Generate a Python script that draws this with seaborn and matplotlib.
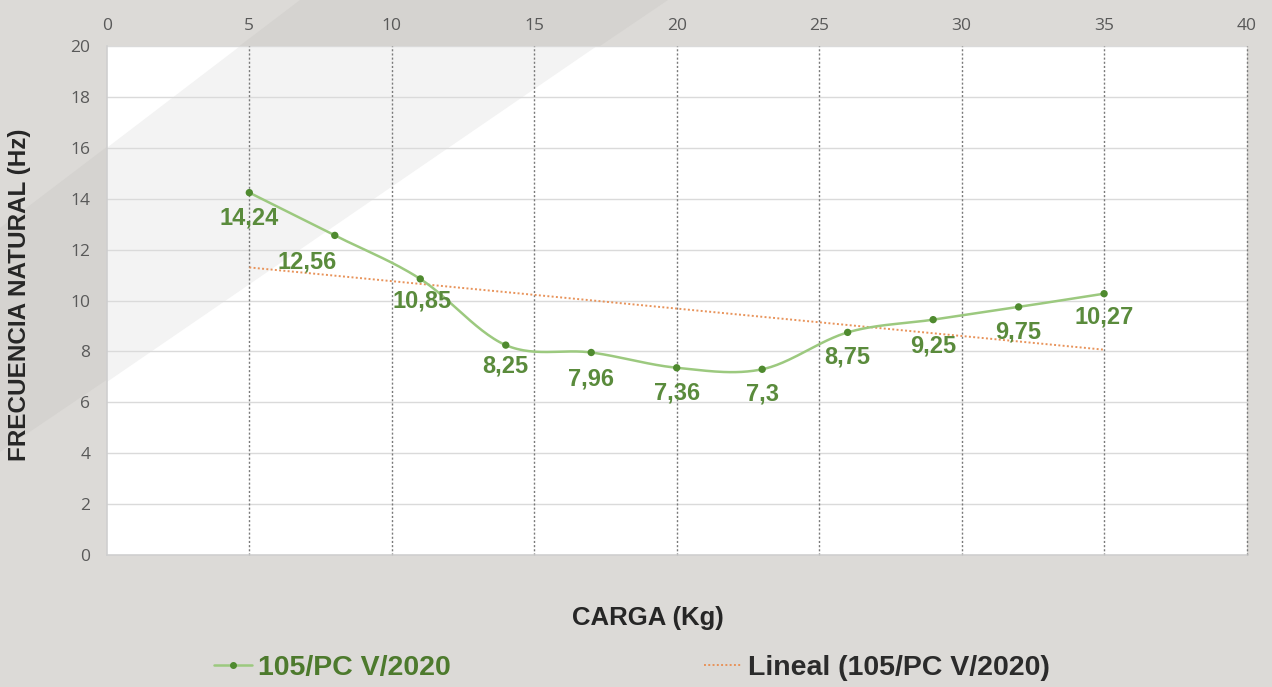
import numpy as np
import pandas as pd
import seaborn as sns
import matplotlib.pyplot as plt
from matplotlib.lines import Line2D
from matplotlib.patches import Polygon

# datos
carga = [5, 8, 11, 14, 17, 20, 23, 26, 29, 32, 35]
frecuencia = [14.24, 12.56, 10.85, 8.25, 7.96, 7.36, 7.3, 8.75, 9.25, 9.75, 10.27]
etiquetas = ["14,24", "12,56", "10,85", "8,25", "7,96", "7,36", "7,3", "8,75", "9,25", "9,75", "10,27"]
serie = "105/PC V/2020"
x_ticks = [0, 5, 10, 15, 20, 25, 30, 35, 40]
y_ticks = [0, 2, 4, 6, 8, 10, 12, 14, 16, 18, 20]

verde_linea = "#9cc97f"
verde_punto = "#4f8a2f"
verde_texto = "#5a8b3c"
fondo = "#dcdad7"


def suavizar(x, y, n=30):
    # curva suavizada tipo Excel (Catmull-Rom)
    x = np.asarray(x, float)
    y = np.asarray(y, float)
    px = np.concatenate([[x[0]], x, [x[-1]]])
    py = np.concatenate([[y[0]], y, [y[-1]]])
    xs, ys = [], []
    t = np.linspace(0, 1, n)
    for i in range(1, len(px) - 2):
        for p, out in ((px, xs), (py, ys)):
            p0, p1, p2, p3 = p[i - 1], p[i], p[i + 1], p[i + 2]
            out.extend(0.5 * ((2 * p1) + (-p0 + p2) * t
                              + (2 * p0 - 5 * p1 + 4 * p2 - p3) * t ** 2
                              + (-p0 + 3 * p1 - 3 * p2 + p3) * t ** 3))
    return np.array(xs), np.array(ys)


sns.set_theme(style="white")
plt.rcParams["font.family"] = ["Liberation Sans", "DejaVu Sans"]

fig = plt.figure(figsize=(12.72, 6.87), dpi=100, facecolor=fondo)

# banda decorativa del fondo (debajo de todo)
bg = fig.add_axes([0, 0, 1, 1], zorder=-1)
bg.set_xlim(0, 1272)
bg.set_ylim(687, 0)
bg.axis("off")
bg.add_patch(Polygon([[0, 228], [300, 0], [668, 0], [0, 452]], closed=True,
                     facecolor="#d5d3d0", edgecolor="none"))

ax = fig.add_axes([0.084, 0.192, 0.896, 0.741])
ax.set_facecolor("white")

# banda clara dentro del área de trazado
ax.add_patch(Polygon([[0, 0.80], [0.117, 1.0], [0.43, 1.0], [0, 0.34]], closed=True,
                     transform=ax.transAxes, facecolor="#f3f3f3", edgecolor="none", zorder=0))

df = pd.DataFrame({"carga": carga, "frecuencia": frecuencia})
xs, ys = suavizar(carga, frecuencia)
curva = pd.DataFrame({"carga": xs, "frecuencia": ys})

sns.lineplot(data=curva, x="carga", y="frecuencia", sort=False, color=verde_linea,
             linewidth=1.8, ax=ax, zorder=3)
sns.scatterplot(data=df, x="carga", y="frecuencia", color=verde_punto, s=28,
                edgecolor="none", ax=ax, zorder=4)

# línea de tendencia lineal
m, b = np.polyfit(carga, frecuencia, 1)
xt = np.array([carga[0], carga[-1]])
ax.plot(xt, m * xt + b, color="#e8935a", linestyle=(0, (1, 1.2)), linewidth=1.4, zorder=2)

# etiquetas de datos
desp = [(0, -18), (-20, -19), (1, -16), (0, -15), (0, -19), (0, -18), (0, -18),
        (0, -18), (0, -19), (0, -18), (0, -17)]
for xi, yi, lab, d in zip(carga, frecuencia, etiquetas, desp):
    ax.annotate(lab, (xi, yi), xytext=d, textcoords="offset points", ha="center", va="center",
                fontsize=17, fontweight="bold", color=verde_texto, zorder=5)

ax.set_xlim(0, 40)
ax.set_ylim(0, 20)
ax.set_xticks(x_ticks)
ax.set_yticks(y_ticks)
ax.xaxis.tick_top()
ax.tick_params(axis="x", length=0, labelsize=12.5, labelcolor="#595959", pad=9)
ax.tick_params(axis="y", length=0, labelsize=12.5, labelcolor="#595959", pad=12)
for lab in ax.get_xticklabels() + ax.get_yticklabels():
    lab.set_family(["Open Sans", "DejaVu Sans"])

for y in y_ticks[1:]:
    ax.axhline(y, color="#dadada", linewidth=1, zorder=1)
for x in x_ticks[1:]:
    ax.axvline(x, color="#7a7a7a", linestyle=(0, (1.5, 1.5)), linewidth=1, zorder=1,
               clip_on=False)
ax.grid(False)
for s in ["top", "right"]:
    ax.spines[s].set_visible(False)
for s in ["left", "bottom"]:
    ax.spines[s].set_color("#cfcfcf")
    ax.spines[s].set_linewidth(1.2)

ax.set_xlabel("")
ax.set_ylabel("")
fig.text(0.509, 0.101, "CARGA (Kg)", ha="center", va="center", fontsize=18.5,
         fontweight="bold", color="#262626")
fig.text(0.015, 0.571, "FRECUENCIA NATURAL (Hz)", ha="center", va="center", rotation=90,
         fontsize=17.5, fontweight="bold", color="#262626")

handles = [Line2D([], [], color=verde_linea, marker="o", markersize=4,
                  markerfacecolor=verde_punto, markeredgecolor=verde_punto, linewidth=1.8),
           Line2D([], [], color="#e8935a", linestyle=(0, (1, 1.2)), linewidth=1.4)]
leg = fig.legend(handles, [serie, "Lineal (" + serie + ")"], loc="center left",
                 bbox_to_anchor=(0.168, 0.028), ncol=2, frameon=False, handlelength=1.35,
                 handletextpad=0.2, columnspacing=8.9, borderpad=0, borderaxespad=0,
                 prop={"size": 20.5, "weight": "bold"})
t0, t1 = leg.get_texts()
t0.set_color("#4d7a2d")
t1.set_color("#2b2b2b")

fig.savefig("out.png", dpi=100, facecolor=fondo)
